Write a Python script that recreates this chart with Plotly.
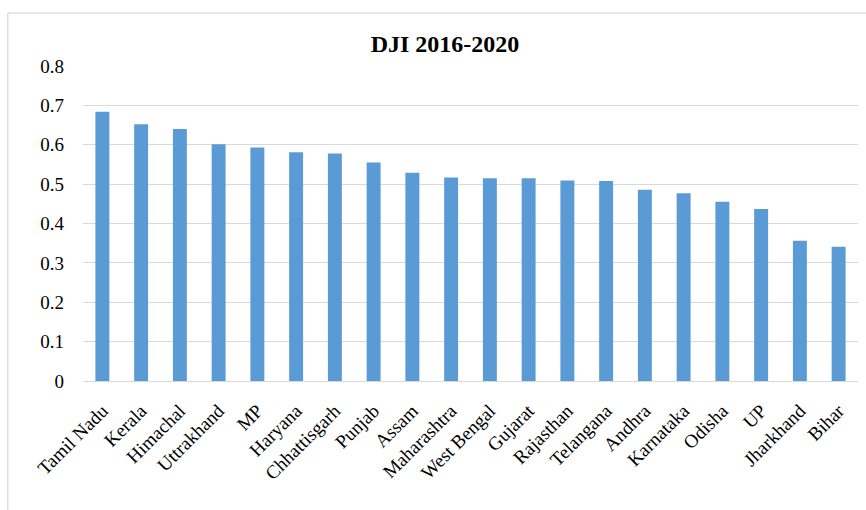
import plotly.graph_objects as go

states = ["Tamil Nadu", "Kerala", "Himachal", "Uttrakhand", "MP", "Haryana",
          "Chhattisgarh", "Punjab", "Assam", "Maharashtra", "West Bengal",
          "Gujarat", "Rajasthan", "Telangana", "Andhra", "Karnataka", "Odisha",
          "UP", "Jharkhand", "Bihar"]
dji = [0.684, 0.652, 0.640, 0.601, 0.593, 0.581, 0.578, 0.555, 0.529, 0.517,
       0.515, 0.515, 0.509, 0.508, 0.486, 0.477, 0.455, 0.437, 0.356, 0.341]
y_ticks = [0, 0.1, 0.2, 0.3, 0.4, 0.5, 0.6, 0.7, 0.8]
y_labels = ["0", "0.1", "0.2", "0.3", "0.4", "0.5", "0.6", "0.7", "0.8"]

fig = go.Figure(go.Bar(x=states, y=dji, marker_color="#5B9BD5",
                       marker_line_width=0))

font_family = "Liberation Serif, Times New Roman, serif"
fig.update_layout(
    width=866, height=510,
    margin=dict(l=83, r=8, t=66, b=129),
    paper_bgcolor="white", plot_bgcolor="white",
    bargap=0.64,
    showlegend=False,
    font=dict(family=font_family, color="#000000", size=19),
    title=dict(text="<b>DJI 2016-2020</b>", x=445 / 866, xanchor="center",
               y=1 - 44 / 510, yanchor="middle",
               font=dict(family=font_family, size=24, color="#000000")),
    xaxis=dict(tickangle=-45, showgrid=False, showline=False, ticks="",
               ticklabelstandoff=14,
               tickfont=dict(size=19, family=font_family)),
    yaxis=dict(range=[0, 0.8], tickvals=y_ticks, ticktext=y_labels,
               showgrid=True, gridcolor="#d9d9d9", gridwidth=1,
               zeroline=True, zerolinecolor="#d9d9d9", zerolinewidth=1,
               showline=False, ticks="", ticklabelstandoff=18,
               tickfont=dict(size=19, family=font_family)),
    shapes=[dict(type="rect", xref="paper", yref="paper",
                 x0=-0.097, x1=1.05, y0=-0.5, y1=1.168,
                 line=dict(color="#d0d0d0", width=1), fillcolor="rgba(0,0,0,0)",
                 layer="below")],
)

fig.write_html("out.html")
